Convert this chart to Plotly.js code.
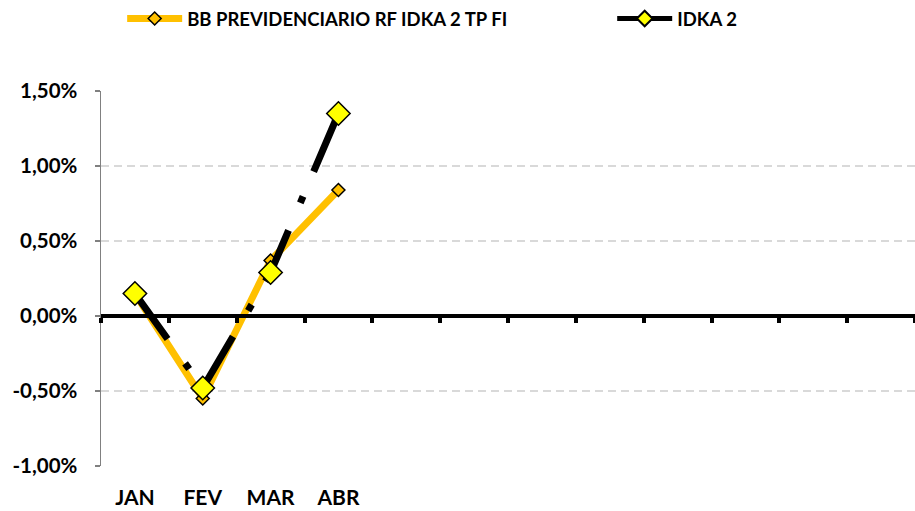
<!DOCTYPE html>
<html>
<head>
<meta charset="utf-8">
<script src="https://cdn.plot.ly/plotly-3.0.1.min.js"></script>
<style>html,body{margin:0;padding:0;background:#fff;}#chart{width:915px;height:511px;}</style>
</head>
<body>
<div id="chart"></div>
<script>
const months = ['JAN','FEV','MAR','ABR','MAI','JUN','JUL','AGO','SET','OUT','NOV','DEZ'];
const xTickLabels = ['JAN','FEV','MAR','ABR','','','','','','','',''];
const dataMonths = ['JAN','FEV','MAR','ABR'];
const fundName = 'BB PREVIDENCIARIO RF IDKA 2 TP FI';
const fundValues = [0.15, -0.55, 0.37, 0.84];
const benchName = 'IDKA 2';
const benchValues = [0.15, -0.48, 0.29, 1.35];
const yTickVals = [-1.0, -0.5, 0, 0.5, 1.0, 1.5];
const yTickText = ['-1,00%', '-0,50%', '0,00%', '0,50%', '1,00%', '1,50%'];

const FONT = 'Lato, "Open Sans", sans-serif';
const legendFont = {family: FONT, size: 18.5, weight: 'bold', color: '#000'};

const traces = [
  {
    x: dataMonths, y: fundValues, name: fundName, type: 'scatter', mode: 'lines+markers',
    line: {color: '#FFC000', width: 7},
    marker: {symbol: 'diamond', size: 10, color: '#FFC000', line: {color: '#000', width: 1.5}},
    xaxis: 'x', yaxis: 'y', hoverinfo: 'skip', legend: 'legend'
  },
  {
    x: dataMonths, y: benchValues, name: benchName, type: 'scatter', mode: 'lines+markers',
    line: {color: '#000000', width: 7, dash: '56px,30px,7px,27px'},
    marker: {symbol: 'diamond', size: 18, color: '#FFFF00', line: {color: '#000', width: 1.5}},
    xaxis: 'x', yaxis: 'y', hoverinfo: 'skip', legend: 'legend2'
  },
  {
    x: months, y: months.map(() => null), type: 'scatter', mode: 'lines',
    xaxis: 'x2', yaxis: 'y', showlegend: false, hoverinfo: 'skip'
  }
];

const layout = {
  width: 915, height: 511,
  margin: {l: 101, r: 0, t: 90, b: 45},
  paper_bgcolor: '#fff', plot_bgcolor: '#fff',
  font: {family: FONT, color: '#000'},
  showlegend: true,
  legend: {
    orientation: 'h', x: 0.026, xanchor: 'left', y: 1.192, yanchor: 'middle',
    font: legendFont, itemwidth: 55, itemsizing: 'trace', bgcolor: 'rgba(0,0,0,0)'
  },
  legend2: {
    orientation: 'h', x: 0.628, xanchor: 'left', y: 1.192, yanchor: 'middle',
    font: legendFont, itemwidth: 55, itemsizing: 'constant', bgcolor: 'rgba(0,0,0,0)'
  },
  xaxis: {
    type: 'category', categoryarray: months, range: [-0.5, 11.5],
    tickvals: months, ticktext: xTickLabels,
    showgrid: false, zeroline: false, showline: false, ticks: '',
    tickfont: {family: FONT, size: 21, weight: 'bold', color: '#000'},
    ticklabelstandoff: 17, fixedrange: true
  },
  xaxis2: {
    type: 'category', categoryarray: months, range: [-0.5, 11.5],
    overlaying: 'x', anchor: 'free', position: 0.4, side: 'bottom',
    showline: true, linecolor: '#000', linewidth: 4,
    ticks: 'outside', tickson: 'boundaries', ticklen: 5, tickwidth: 4, tickcolor: '#000',
    showticklabels: false, showgrid: false, zeroline: false, fixedrange: true
  },
  yaxis: {
    range: [-1.0, 1.5], tickvals: yTickVals, ticktext: yTickText,
    showgrid: true, gridcolor: '#D9D9D9', gridwidth: 1.5, griddash: '8px,5px',
    zeroline: false, showline: true, linecolor: '#808080', linewidth: 1.5,
    ticks: 'outside', ticklen: 5, tickcolor: '#808080', tickwidth: 1.5,
    tickfont: {family: FONT, size: 20.5, weight: 'bold', color: '#000'},
    ticklabelstandoff: 13, fixedrange: true
  }
};

Plotly.newPlot('chart', traces, layout, {displayModeBar: false, staticPlot: true});
</script>
</body>
</html>
